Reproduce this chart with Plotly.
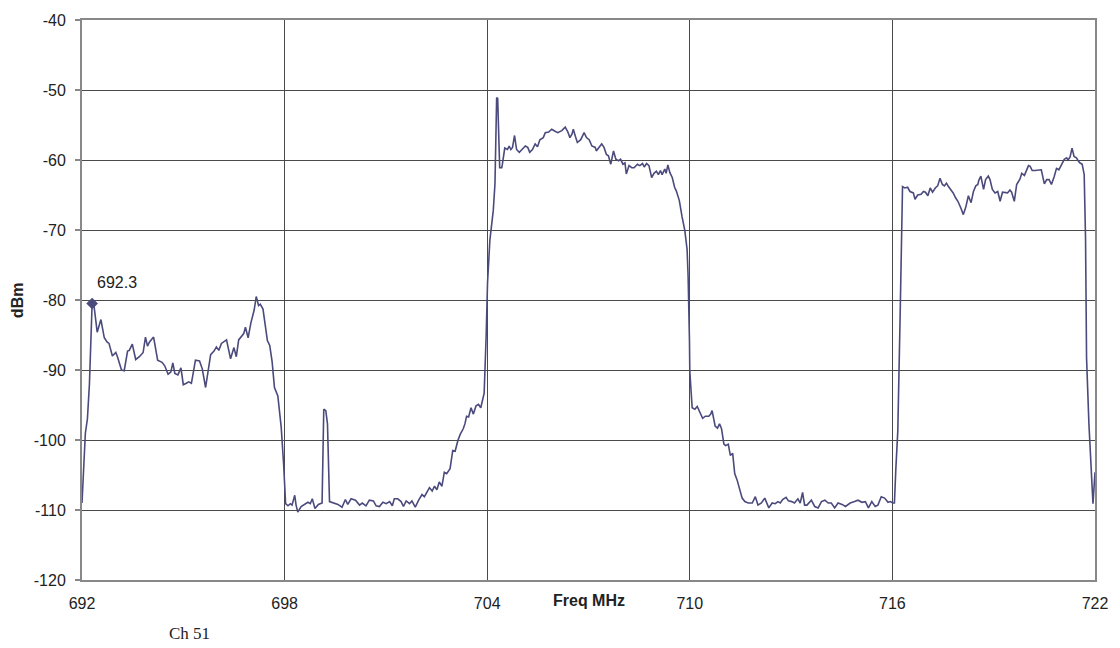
import plotly.graph_objects as go

# Spectrum trace
freq_mhz = [
    692.0, 692.05, 692.1, 692.16, 692.22, 692.3, 692.35, 692.45, 692.56, 692.66,
    692.74, 692.8, 692.9, 693.0, 693.05, 693.17, 693.25, 693.35, 693.4, 693.49,
    693.59, 693.7, 693.81, 693.88, 693.94, 694.0, 694.12, 694.24, 694.37, 694.45,
    694.55, 694.63, 694.69, 694.75, 694.84, 694.93, 695.0, 695.09, 695.16, 695.24,
    695.36, 695.48, 695.56, 695.66, 695.74, 695.81, 695.91, 695.98, 696.05, 696.13,
    696.28, 696.35, 696.4, 696.5, 696.57, 696.64, 696.72, 696.79, 696.84, 696.92,
    697.0, 697.1, 697.16, 697.23, 697.28, 697.36, 697.49, 697.56, 697.63, 697.7,
    697.8, 697.9, 697.97, 698.03, 698.1, 698.17, 698.22, 698.3, 698.34, 698.39,
    698.49, 698.59, 698.69, 698.76, 698.82, 698.9, 699.0, 699.11, 699.16, 699.22,
    699.27, 699.33, 699.43, 699.58, 699.7, 699.8, 699.87, 699.97, 700.1, 700.22,
    700.3, 700.41, 700.51, 700.63, 700.71, 700.81, 700.91, 701.01, 701.11, 701.19,
    701.25, 701.35, 701.45, 701.52, 701.6, 701.7, 701.77, 701.87, 701.97, 702.07,
    702.14, 702.21, 702.29, 702.37, 702.44, 702.51, 702.58, 702.66, 702.73, 702.8,
    702.9, 702.98, 703.05, 703.13, 703.2, 703.29, 703.34, 703.39, 703.45, 703.52,
    703.59, 703.67, 703.74, 703.81, 703.86, 703.91, 703.97, 704.01, 704.08, 704.11,
    704.18, 704.23, 704.28, 704.31, 704.33, 704.37, 704.43, 704.45, 704.52, 704.6,
    704.65, 704.7, 704.75, 704.81, 704.87, 704.95, 705.03, 705.13, 705.2, 705.26,
    705.34, 705.42, 705.49, 705.56, 705.66, 705.72, 705.82, 705.91, 706.01, 706.09,
    706.21, 706.31, 706.38, 706.45, 706.51, 706.55, 706.61, 706.67, 706.77, 706.87,
    706.94, 707.02, 707.1, 707.2, 707.23, 707.31, 707.39, 707.46, 707.53, 707.59,
    707.66, 707.74, 707.81, 707.89, 707.95, 708.02, 708.08, 708.12, 708.2, 708.28,
    708.35, 708.45, 708.52, 708.6, 708.65, 708.72, 708.79, 708.87, 708.94, 709.01,
    709.07, 709.13, 709.18, 709.26, 709.3, 709.35, 709.41, 709.48, 709.55, 709.6,
    709.69, 709.77, 709.85, 709.92, 709.95, 709.99, 710.0, 710.07, 710.15, 710.22,
    710.3, 710.38, 710.46, 710.56, 710.62, 710.66, 710.75, 710.82, 710.88, 710.94,
    711.01, 711.06, 711.14, 711.2, 711.27, 711.33, 711.4, 711.47, 711.55, 711.63,
    711.73, 711.85, 711.94, 712.02, 712.12, 712.22, 712.34, 712.44, 712.53, 712.61,
    712.68, 712.75, 712.85, 712.92, 713.02, 713.1, 713.2, 713.27, 713.34, 713.4,
    713.47, 713.6, 713.7, 713.8, 713.9, 714.0, 714.1, 714.19, 714.29, 714.39,
    714.51, 714.61, 714.75, 714.88, 714.98, 715.1, 715.2, 715.29, 715.39, 715.49,
    715.57, 715.67, 715.77, 715.87, 715.94, 716.01, 716.06, 716.1, 716.16, 716.23,
    716.3, 716.37, 716.45, 716.52, 716.57, 716.62, 716.67, 716.75, 716.85, 716.92,
    716.98, 717.05, 717.12, 717.19, 717.27, 717.34, 717.41, 717.48, 717.54, 717.6,
    717.66, 717.73, 717.8, 717.87, 717.94, 718.03, 718.1, 718.17, 718.25, 718.33,
    718.4, 718.47, 718.53, 718.56, 718.62, 718.7, 718.76, 718.84, 718.89, 718.96,
    719.04, 719.12, 719.19, 719.26, 719.34, 719.41, 719.48, 719.53, 719.61, 719.68,
    719.78, 719.83, 719.91, 719.98, 720.03, 720.08, 720.14, 720.22, 720.32, 720.41,
    720.5, 720.57, 720.64, 720.71, 720.79, 720.86, 720.93, 721.01, 721.09, 721.16,
    721.2, 721.26, 721.32, 721.38, 721.45, 721.5, 721.55, 721.62, 721.68, 721.72,
    721.75, 721.82, 721.94, 722.0,
]

power_dbm = [
    -109.0, -103.0, -99.0, -97.0, -92.0, -80.5, -80.6, -84.6, -82.8, -85.4,
    -86.0, -86.2, -88.0, -87.5, -88.1, -90.0, -90.1, -87.3, -87.2, -86.3,
    -88.5, -88.1, -87.5, -85.3, -86.6, -86.0, -85.3, -88.6, -88.9, -89.4,
    -90.6, -90.3, -89.0, -90.5, -90.7, -89.7, -92.1, -91.9, -91.7, -91.9,
    -88.6, -88.7, -89.8, -92.5, -90.0, -87.8, -87.3, -86.7, -87.2, -86.2,
    -85.7, -87.4, -88.4, -86.8, -88.1, -85.7, -85.3, -84.8, -83.9, -85.4,
    -83.3, -81.4, -79.5, -80.8, -80.6, -81.3, -85.8, -86.5, -88.8, -92.5,
    -93.7, -98.2, -103.4, -109.1, -109.4, -109.1, -109.3, -107.9, -109.3, -110.3,
    -109.5, -109.2, -108.9, -109.1, -108.4, -109.8, -109.2, -109.0, -95.6, -95.8,
    -97.7, -108.8, -109.0, -109.2, -109.6, -108.5, -109.2, -108.4, -108.6, -109.3,
    -109.0, -109.4, -108.6, -108.7, -109.4, -109.5, -108.9, -109.1, -108.8, -109.4,
    -108.4, -108.4, -108.8, -109.5, -108.7, -109.1, -108.7, -109.6, -108.6, -107.8,
    -108.1, -107.5, -106.8, -107.3, -106.6, -107.1, -106.0, -106.6, -104.6, -104.8,
    -104.1, -101.5, -101.6, -100.1, -99.2, -98.4, -97.7, -96.6, -96.7, -95.4,
    -96.3, -95.1, -94.9, -95.4, -94.4, -93.3, -85.0, -77.5, -71.4, -70.0,
    -67.2, -63.4, -51.1, -51.2, -56.4, -61.1, -61.1, -60.6, -58.3, -58.5,
    -58.0, -58.5, -58.2, -56.5, -58.5, -58.9, -58.5, -58.0, -58.2, -58.9,
    -58.5, -57.7, -58.1, -57.1, -56.8, -56.1, -56.0, -55.6, -55.9, -56.1,
    -55.8, -55.3, -55.9, -56.8, -56.3, -55.6, -56.6, -57.5, -57.1, -56.1,
    -56.8, -57.1, -58.0, -58.2, -58.7, -58.2, -57.7, -58.2, -59.2, -59.4,
    -60.6, -58.7, -59.9, -60.1, -59.9, -60.6, -60.4, -62.0, -60.8, -61.1,
    -61.1, -60.6, -60.8, -60.5, -61.0, -60.5, -60.8, -62.5, -61.9, -61.6,
    -62.1, -61.5, -62.1, -61.3, -61.9, -60.7, -61.8, -62.5, -63.9, -64.4,
    -65.8, -68.1, -70.0, -72.8, -76.6, -85.7, -90.2, -95.4, -95.6, -95.2,
    -96.1, -96.9, -96.6, -96.6, -96.3, -95.8, -98.0, -98.3, -97.7, -98.4,
    -100.6, -100.8, -100.6, -102.2, -101.9, -104.8, -105.7, -106.9, -108.3, -108.8,
    -109.0, -109.0, -108.1, -109.3, -109.0, -108.3, -109.7, -109.0, -109.1, -108.8,
    -109.0, -108.5, -108.2, -108.7, -108.8, -109.0, -108.4, -109.0, -107.5, -109.3,
    -109.3, -108.6, -109.5, -109.7, -108.8, -108.6, -109.0, -109.0, -109.7, -109.0,
    -109.2, -109.5, -109.0, -108.8, -108.6, -108.9, -108.8, -109.7, -108.8, -109.5,
    -109.3, -108.1, -108.3, -108.9, -108.8, -109.0, -109.0, -104.3, -98.7, -82.0,
    -63.8, -64.0, -63.9, -64.5, -64.6, -64.7, -65.6, -65.0, -64.9, -64.5,
    -64.6, -65.1, -64.0, -64.6, -64.0, -63.7, -62.6, -63.5, -63.7, -63.3,
    -63.8, -64.2, -64.7, -65.4, -65.9, -66.9, -67.8, -66.8, -65.1, -66.1,
    -64.5, -63.7, -63.5, -62.9, -62.3, -64.2, -62.8, -62.3, -62.8, -64.2,
    -64.7, -64.5, -65.9, -64.6, -64.6, -64.7, -64.3, -64.6, -65.9, -63.5,
    -62.7, -61.9, -62.2, -61.2, -60.8, -60.9, -61.5, -61.5, -61.4, -61.4,
    -63.4, -62.8, -62.8, -63.5, -62.4, -61.2, -61.4, -60.7, -59.9, -59.7,
    -60.0, -59.6, -58.3, -59.5, -59.7, -60.1, -60.4, -60.6, -62.1, -71.3,
    -88.3, -97.7, -109.1, -104.6,
]

marker_freq = [692.3]
marker_dbm = [-80.5]
marker_label = "692.3"

x_ticks = [692, 698, 704, 710, 716, 722]
y_ticks = [-120, -110, -100, -90, -80, -70, -60, -50, -40]

line_color = "#4B4A7C"
font_family = "Liberation Sans, Arial, sans-serif"

fig = go.Figure()
fig.add_trace(go.Scatter(
    x=freq_mhz, y=power_dbm, mode="lines",
    line=dict(color=line_color, width=1.6),
    showlegend=False, hoverinfo="skip",
))
fig.add_trace(go.Scatter(
    x=marker_freq, y=marker_dbm, mode="markers",
    marker=dict(symbol="diamond", size=9, color=line_color),
    showlegend=False,
))

fig.update_layout(
    width=1120, height=648,
    margin=dict(l=82, r=23, t=15, b=68),
    paper_bgcolor="white", plot_bgcolor="white",
    font=dict(family=font_family, size=16, color="#222222"),
    xaxis=dict(
        range=[692, 722], tickvals=x_ticks, ticktext=[str(v) for v in x_ticks],
        showgrid=True, gridcolor="#4a4a4a", gridwidth=1,
        showline=True, linecolor="#888888", linewidth=2, mirror=True,
        ticks="", ticklabelstandoff=8, zeroline=False,
        tickfont=dict(size=16, color="#222222"),
    ),
    yaxis=dict(
        range=[-120, -40], tickvals=y_ticks, ticktext=[str(v) for v in y_ticks],
        showgrid=True, gridcolor="#4a4a4a", gridwidth=1,
        showline=True, linecolor="#888888", linewidth=2, mirror=True,
        ticks="outside", ticklen=5, tickcolor="#888888", tickwidth=1.5,
        ticklabelstandoff=6, zeroline=False,
        tickfont=dict(size=16, color="#222222"),
    ),
    annotations=[
        dict(x=692.3, y=-80.5, xref="x", yref="y", text=marker_label,
             showarrow=False, xanchor="left", yanchor="middle",
             xshift=3, yshift=21, font=dict(size=16, color="#222222")),
        dict(x=0.5, y=-(601 - 580) / 565, xref="paper", yref="paper",
             text="<b>Freq MHz</b>",
             showarrow=False, xanchor="center", yanchor="middle",
             font=dict(size=16, color="#222222")),
        dict(x=(17 - 82) / 1015, y=0.5, xref="paper", yref="paper", text="<b>dBm</b>",
             showarrow=False, textangle=-90, xanchor="center", yanchor="middle",
             font=dict(size=16, color="#222222")),
        dict(x=(190 - 82) / 1015, y=-(634 - 580) / 565, xref="paper", yref="paper",
             text="Ch 51", showarrow=False, xanchor="center", yanchor="middle",
             font=dict(size=17, family="Liberation Serif, Times New Roman, serif",
                       color="#222222")),
    ],
)

fig.write_html("out.html", config={"displayModeBar": False},
               post_script="document.body.style.margin='0';")
